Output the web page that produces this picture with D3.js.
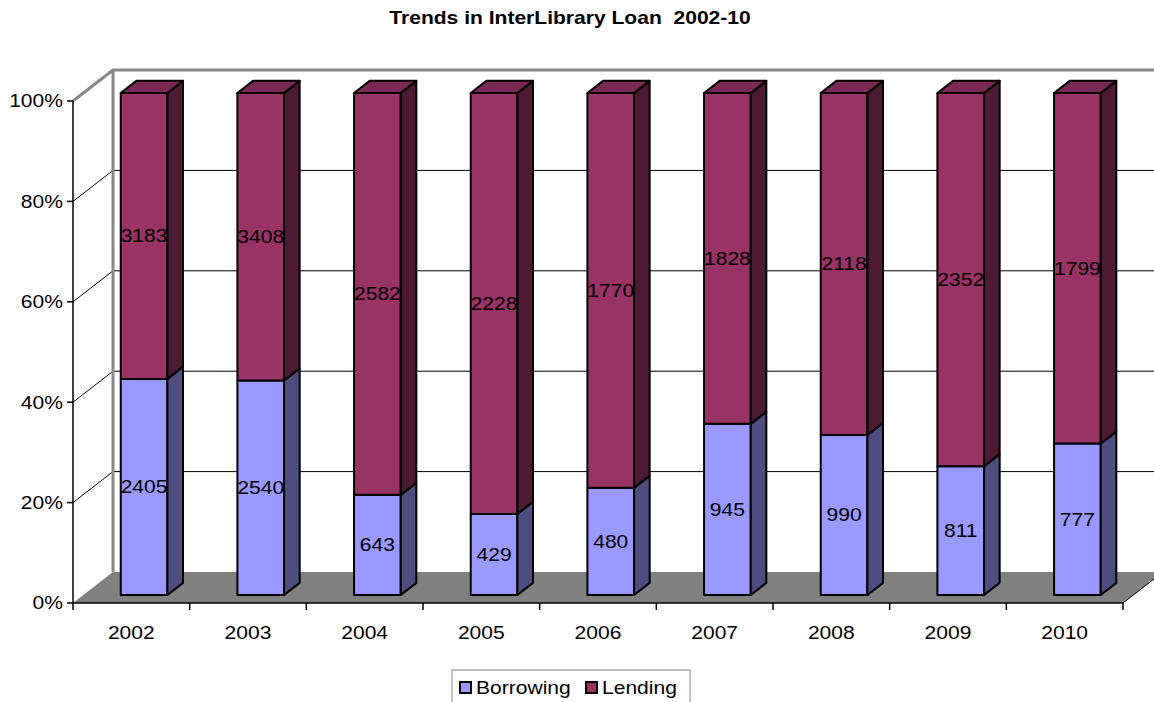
<!DOCTYPE html>
<html>
<head>
<meta charset="utf-8">
<script src="https://cdn.jsdelivr.net/npm/d3@7"></script>
<style>
  body { margin: 0; background: #fff; }
  svg { font-family: "Liberation Sans", Arial, sans-serif; }
  text { white-space: pre; }
</style>
</head>
<body>
<svg id="chart" width="1154" height="702"></svg>
<script>
// data
const years = ['2002', '2003', '2004', '2005', '2006', '2007', '2008', '2009', '2010'];
const borrowing = [2405, 2540, 643, 429, 480, 945, 990, 811, 777];
const lending = [3183, 3408, 2582, 2228, 1770, 1828, 2118, 2352, 1799];
const seriesNames = ['Borrowing', 'Lending'];
const yTicks = [0, 0.2, 0.4, 0.6, 0.8, 1];

const colors = {
  Borrowing: { front: '#9999ff', side: '#4d4d80', top: '#7a7acc' },
  Lending: { front: '#993366', side: '#4d1a33', top: '#7a2952' }
};

const svg = d3.select('#chart');
const width = 1154;
const stretch = 1.17; // text in the original is a bit wide

// front plane of the 3D box
const pL = 73, pR = 1123, pB = 603, pT = 101;
const depthX = 40, depthY = -31;
const x = d3.scaleBand().domain(years).range([pL, pR]).padding(0);
const y = d3.scaleLinear().domain([0, 1]).range([pB, pT]);
const proj = (px, v, d) => [px + depthX * d, y(v) + depthY * d];

const rows = years.map((yr, i) => ({ year: yr, Borrowing: borrowing[i], Lending: lending[i] }));
const stacked = d3.stack().keys(seriesNames).offset(d3.stackOffsetExpand)(rows);

function label(parent, tx, ty, str, anchor, size, bold) {
  return parent.append('text')
    .attr('transform', `translate(${tx},${ty}) scale(${stretch},1)`)
    .attr('dy', '0.36em')
    .attr('text-anchor', anchor)
    .attr('font-size', size)
    .attr('font-weight', bold ? 'bold' : null)
    .text(str);
}

// title
label(svg, 570, 18, 'Trends in InterLibrary Loan  2002-10', 'middle', 18, true);

// back wall gridlines
yTicks.slice(1, -1).forEach(t => {
  const a = proj(pL, t, 1);
  svg.append('line')
    .attr('x1', a[0]).attr('y1', a[1]).attr('x2', width).attr('y2', a[1])
    .attr('stroke', '#000').attr('stroke-width', 1);
  svg.append('line')
    .attr('x1', pL).attr('y1', y(t)).attr('x2', a[0]).attr('y2', a[1])
    .attr('stroke', '#000').attr('stroke-width', 1);
});

// wall outline (grey)
const wallTop = proj(pL, 1, 1), wallBottom = proj(pL, 0, 1);
svg.append('path')
  .attr('d', `M${pL},${y(1)}L${wallTop[0]},${wallTop[1]}L${width},${wallTop[1]}M${wallTop[0]},${wallTop[1]}L${wallBottom[0]},${wallBottom[1]}`)
  .attr('fill', 'none').attr('stroke', '#888').attr('stroke-width', 3);

// floor
const f1 = proj(pL, 0, 1), f2 = proj(pR, 0, 1);
svg.append('path')
  .attr('d', `M${pL},${pB}L${f1[0]},${f1[1]}L${f2[0]},${f2[1]}L${pR},${pB}Z`)
  .attr('fill', '#808080');
svg.append('line')
  .attr('x1', pR).attr('y1', pB).attr('x2', f2[0]).attr('y2', f2[1])
  .attr('stroke', '#000').attr('stroke-width', 1);

// y axis
svg.append('line')
  .attr('x1', pL).attr('y1', pT).attr('x2', pL).attr('y2', pB)
  .attr('stroke', '#000').attr('stroke-width', 1.5);
svg.selectAll('.ytick').data(yTicks).enter().append('line')
  .attr('x1', pL - 6).attr('x2', pL)
  .attr('y1', d => y(d)).attr('y2', d => y(d))
  .attr('stroke', '#000').attr('stroke-width', 1.5);
yTicks.forEach(t => label(svg, pL - 10, y(t), d3.format('.0%')(t), 'end', 18));

// x axis
svg.append('line')
  .attr('x1', pL).attr('y1', pB).attr('x2', pR).attr('y2', pB)
  .attr('stroke', '#000').attr('stroke-width', 1.5);
svg.selectAll('.xtick').data(years.concat(['end'])).enter().append('line')
  .attr('x1', d => d === 'end' ? pR : x(d))
  .attr('x2', d => d === 'end' ? pR : x(d))
  .attr('y1', pB).attr('y2', pB + 7)
  .attr('stroke', '#000').attr('stroke-width', 1.5);
years.forEach(yr => label(svg, x(yr) + x.bandwidth() / 2, pB + 30, yr, 'middle', 18));

// bars
const d0 = 0.26, d1 = 0.65;
const barOff = x.bandwidth() * 0.32, barW = x.bandwidth() * 0.4;
const pts = arr => 'M' + arr.map(p => p.join(',')).join('L') + 'Z';

years.forEach((yr, i) => {
  const xl = x(yr) + barOff, xr = xl + barW;
  stacked.forEach(s => {
    const v0 = s[i][0], v1 = s[i][1];
    const c = colors[s.key];
    const g = svg.append('g');
    // front
    g.append('path')
      .attr('d', pts([proj(xl, v0, d0), proj(xr, v0, d0), proj(xr, v1, d0), proj(xl, v1, d0)]))
      .attr('fill', c.front).attr('stroke', '#000').attr('stroke-width', 2).attr('stroke-linejoin', 'round');
    // side
    g.append('path')
      .attr('d', pts([proj(xr, v0, d0), proj(xr, v0, d1), proj(xr, v1, d1), proj(xr, v1, d0)]))
      .attr('fill', c.side).attr('stroke', '#000').attr('stroke-width', 2).attr('stroke-linejoin', 'round');
    // top
    if (v1 >= 0.999) {
      g.append('path')
        .attr('d', pts([proj(xl, v1, d0), proj(xr, v1, d0), proj(xr, v1, d1), proj(xl, v1, d1)]))
        .attr('fill', c.top).attr('stroke', '#000').attr('stroke-width', 2).attr('stroke-linejoin', 'round');
    }
    // label
    const lp = proj((xl + xr) / 2, (v0 + v1) / 2, d0);
    label(g, lp[0], lp[1], s.key === 'Borrowing' ? borrowing[i] : lending[i], 'middle', 18);
  });
});

// legend
const legend = svg.append('g');
legend.append('rect')
  .attr('x', 452).attr('y', 670).attr('width', 238).attr('height', 40)
  .attr('fill', '#fff').attr('stroke', '#888').attr('stroke-width', 1);
const legendX = [460, 586];
seriesNames.forEach((name, i) => {
  legend.append('rect')
    .attr('x', legendX[i]).attr('y', 682).attr('width', 11).attr('height', 11)
    .attr('fill', colors[name].front).attr('stroke', '#000').attr('stroke-width', 2);
  label(legend, legendX[i] + 16, 688, name, 'start', 18);
});
</script>
</body>
</html>
